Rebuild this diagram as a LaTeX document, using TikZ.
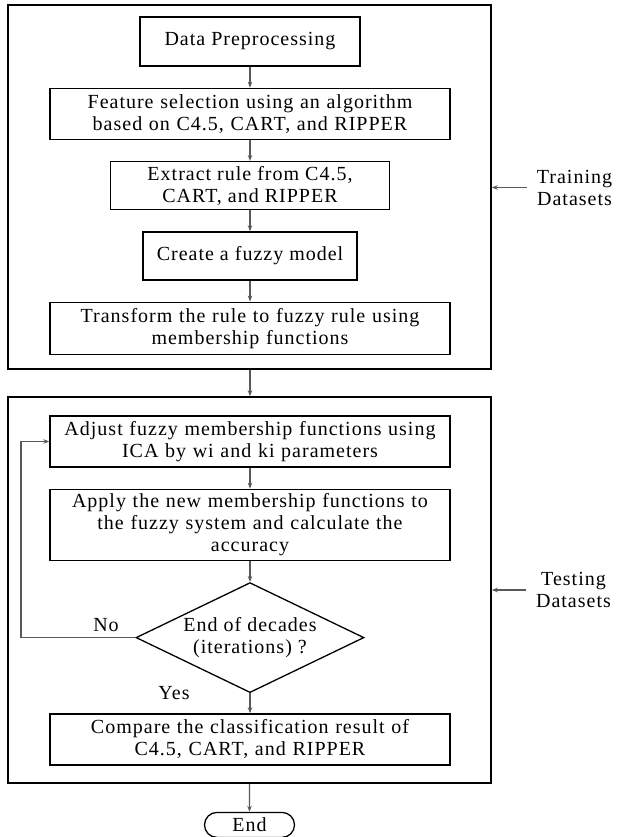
\documentclass[tikz,border=0pt]{standalone}
\usepackage{fontspec}
\setmainfont{Liberation Serif}[LetterSpace=5]
\usetikzlibrary{shapes,arrows,positioning,calc,shapes.geometric,arrows.meta}
\definecolor{flowgray}{RGB}{89,89,89}

\begin{document}
\begin{tikzpicture}[x=1pt, y=1pt, node distance=21pt,
					every node/.style={font=\fontsize{20}{22}\selectfont},
					stepbox/.style={draw, line width=1.3pt, align=center, inner sep=0pt, text width=390pt, minimum width=400pt, minimum height=51pt},
					shortbox/.style={draw, line width=1.3pt, align=center, inner sep=0pt, minimum height=48pt},
					decision/.style={draw, line width=1.3pt, diamond, align=center, inner sep=0pt, aspect=2.07, minimum width=228pt, minimum height=110pt},
					terminal/.style={draw, line width=1.3pt, rounded rectangle, inner sep=0pt, minimum width=90pt, minimum height=25pt},
					frame/.style={draw, line width=1.5pt, minimum width=483pt},
					sidelbl/.style={align=center, inner xsep=10pt},
					flow/.style={draw=flowgray, line width=1.2pt, -{Stealth[length=6pt, width=4.5pt]}}]
					
					\useasboundingbox (0,0) rectangle (617,-837);
					
					\node[frame, minimum height=364pt] (train) at (249.5,-187) {};
					\node[frame, minimum height=386pt] (test) at (249.5,-590) {};
					
					\node[shortbox, minimum width=220pt, minimum height=49pt] (prep) at (250,-41.5) {Data Preprocessing};
					\node[stepbox, below=of prep] (select) {Feature selection using an algorithm\\based on C4.5, CART, and RIPPER};
					\node[shortbox, minimum width=279pt, below=of select] (extract) {Extract rule from C4.5,\\CART, and RIPPER};
					\node[shortbox, minimum width=214pt, below=of extract] (model) {Create a fuzzy model};
					\node[stepbox, minimum height=52pt, below=of model] (transform) {Transform the rule to fuzzy rule using\\membership functions};
					
					\node[stepbox] (adjust) at (250,-441.5) {Adjust fuzzy membership functions using\\ICA by wi and ki parameters};
					\node[stepbox, minimum height=71pt, below=of adjust] (apply) {Apply the new membership functions to\\the fuzzy system and calculate the\\accuracy};
					\node[decision, below=of apply] (decades) {End of decades\\(iterations) ?};
					\node[stepbox, below=20pt of decades] (compare) {Compare the classification result of\\C4.5, CART, and RIPPER};
					\node[terminal, below=28pt of test] (finish) {End};
					
					\node (nolbl) at (106,-625) {No};
					\node (yeslbl) at (174,-693) {Yes};
					\node[sidelbl] (trainlbl) at (574.5,-187.5) {Training\\Datasets};
					\node[sidelbl] (testlbl) at (573.5,-590) {Testing\\Datasets};
					\coordinate (back) at (21,0);
					
					\draw[flow] (prep) -- (select);
					\draw[flow] (select) -- (extract);
					\draw[flow] (extract) -- (model);
					\draw[flow] (model) -- (transform);
					\draw[flow] (train.south -| prep) -- (test.north -| prep);
					\draw[flow] (adjust) -- (apply);
					\draw[flow] (apply) -- (decades);
					\draw[flow] (decades) -- (compare);
					\draw[flow] (decades.west) -- (decades.west -| back) |- (adjust.west);
					\draw[flow] (test.south -| finish) -- (finish);
					\draw[flow] (trainlbl.west) -- (trainlbl.west -| train.east);
					\draw[flow] (testlbl.west) -- (testlbl.west -| test.east);
				\end{tikzpicture}
\end{document}
